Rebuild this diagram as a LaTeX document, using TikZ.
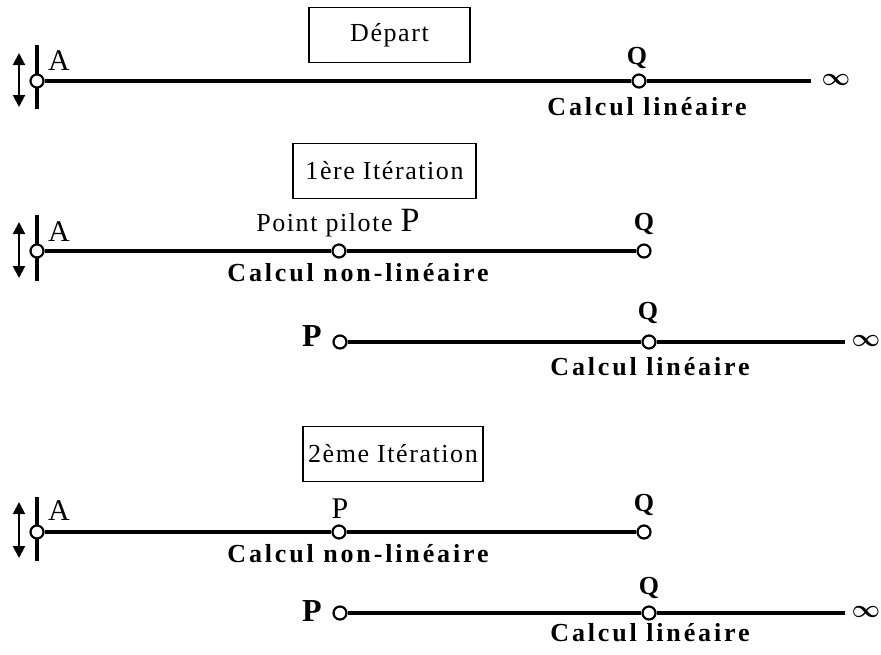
\documentclass[tikz,border=0pt]{standalone}
\usepackage{amsmath}
\usepackage{fontspec}
\setmainfont{Liberation Serif}
\newfontfamily\regf[LetterSpace=6]{Liberation Serif}
\newfontfamily\boldf[LetterSpace=11]{Liberation Serif Bold}
\usetikzlibrary{arrows.meta}
\tikzset{
  axis/.style={line width=3.6pt},
  bar/.style={line width=3.6pt},
  pt/.style={circle, draw, fill=white, line width=2.2pt, minimum size=13pt, inner sep=0pt},
  dbl/.style={line width=2pt, {Triangle[length=12pt,width=12pt]}-{Triangle[length=12pt,width=12pt]}},
  titlebox/.style={draw, line width=1.4pt, minimum height=55pt, inner sep=0pt, font=\regf\fontsize{26}{28}\selectfont},
  reglab/.style={inner sep=0pt, font=\regf\fontsize{26}{28}\selectfont},
  boldlab/.style={inner sep=0pt, font=\boldf\fontsize{26}{28}\selectfont},
  inflab/.style={inner sep=0pt, font=\fontsize{32}{32}\selectfont}
}
\begin{document}
\begin{tikzpicture}[x=1pt,y=-1pt]
\useasboundingbox (0,0) rectangle (881,654);
% ---------- Depart
\node[titlebox, minimum width=161pt] (t0) at (389.5,35) {Départ};
\coordinate (b1t) at (37,45); \coordinate (b1b) at (37,109);
\draw[bar] (b1t) -- (b1b);
\coordinate (a1t) at (19,53); \coordinate (a1b) at (19,107);
\draw[dbl] (a1t) -- (a1b);
\coordinate (e1) at (811,81);
\node[pt] (A1) at (37,81) {};
\node[pt] (Q1) at (639,81) {};
\draw[axis] (A1) -- (Q1);
\draw[axis] (Q1) -- (e1);
\node[reglab, font=\regf\fontsize{30}{30}\selectfont] (lA1) at (59,61) {A};
\node[boldlab] (lQ1) at (637,58) {Q};
\node[inflab] (i1) at (836,80) {$\boldsymbol{\infty}$};
\node[boldlab] (c1) at (647,107) {Calcul linéaire};
% ---------- 1ere iteration
\node[titlebox, minimum width=183pt] (t1) at (384.5,171) {1ère Itération};
\coordinate (b2t) at (37,215); \coordinate (b2b) at (37,281);
\draw[bar] (b2t) -- (b2b);
\coordinate (a2t) at (19,222); \coordinate (a2b) at (19,278);
\draw[dbl] (a2t) -- (a2b);
\node[pt] (A2) at (37,251) {};
\node[pt] (P2) at (339,251) {};
\node[pt] (Q2) at (644,251) {};
\draw[axis] (A2) -- (P2);
\draw[axis] (P2) -- (Q2);
\node[reglab, font=\regf\fontsize{30}{30}\selectfont] (lA2) at (59,232) {A};
\node[reglab, anchor=base] (lP2) at (338,231) {Point pilote {\fontsize{34}{34}\selectfont P}};
\node[boldlab] (lQ2) at (644,224) {Q};
\node[boldlab] (c2) at (358,273) {Calcul non-linéaire};
% ---------- row 3
\node[pt] (P3) at (340,342) {};
\node[pt] (Q3) at (649,342) {};
\coordinate (e3) at (845,342);
\draw[axis] (P3) -- (Q3);
\draw[axis] (Q3) -- (e3);
\node[boldlab, font=\boldf\fontsize{32}{32}\selectfont] (lP3) at (312,336) {P};
\node[boldlab] (lQ3) at (648,313) {Q};
\node[inflab] (i3) at (866,341) {$\boldsymbol{\infty}$};
\node[boldlab] (c3) at (650,367) {Calcul linéaire};
% ---------- 2eme iteration
\node[titlebox, minimum width=180pt] (t2) at (393,454) {2ème Itération};
\coordinate (b4t) at (37,497); \coordinate (b4b) at (37,561);
\draw[bar] (b4t) -- (b4b);
\coordinate (a4t) at (19,502); \coordinate (a4b) at (19,558);
\draw[dbl] (a4t) -- (a4b);
\node[pt] (A4) at (37,532) {};
\node[pt] (P4) at (339,532) {};
\node[pt] (Q4) at (644,532) {};
\draw[axis] (A4) -- (P4);
\draw[axis] (P4) -- (Q4);
\node[reglab, font=\regf\fontsize{30}{30}\selectfont] (lA4) at (59,511) {A};
\node[reglab, font=\regf\fontsize{30}{30}\selectfont] (lP4) at (340,509) {P};
\node[boldlab] (lQ4) at (644,505) {Q};
\node[boldlab] (c4) at (358,554) {Calcul non-linéaire};
% ---------- row 5
\node[pt] (P5) at (340,613) {};
\node[pt] (Q5) at (649,613) {};
\coordinate (e5) at (845,613);
\draw[axis] (P5) -- (Q5);
\draw[axis] (Q5) -- (e5);
\node[boldlab, font=\boldf\fontsize{32}{32}\selectfont] (lP5) at (312,611) {P};
\node[boldlab] (lQ5) at (649,588) {Q};
\node[inflab] (i5) at (866,612) {$\boldsymbol{\infty}$};
\node[boldlab] (c5) at (650,633) {Calcul linéaire};
\end{tikzpicture}
\end{document}
